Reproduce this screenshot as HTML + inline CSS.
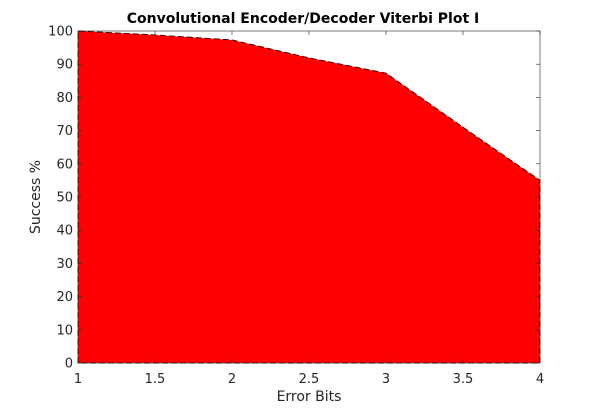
<!DOCTYPE html>
<html><head><meta charset="utf-8"><style>
html,body{margin:0;padding:0;background:#fff;}
svg{display:block;font-family:"DejaVu Sans","Liberation Sans",sans-serif;}
</style></head><body>
<svg id="chart" width="597" height="408" viewBox="0 0 597 408" xmlns="http://www.w3.org/2000/svg">
<rect width="597" height="408" fill="#fff"/>
<text x="303" y="23" text-anchor="middle" font-size="14" font-weight="bold" fill="#000">Convolutional Encoder/Decoder Viterbi Plot I</text>
<rect x="78" y="31" width="462" height="332" fill="#fff"/>
<g id="marks"></g>
<g id="axes"></g>
<text x="309" y="401" text-anchor="middle" font-size="14" fill="#262626">Error Bits</text>
<text transform="translate(40,197) rotate(-90)" text-anchor="middle" font-size="14" fill="#262626">Success %</text>
</svg>
<script>
const xValues = [1, 1.5, 2, 2.5, 3, 3.5, 4];
const successValues = [100, 98.8, 97.3, 91.9, 87.3, 71, 55];
const xTicks = [1, 1.5, 2, 2.5, 3, 3.5, 4];
const xTickLabels = ['1', '1.5', '2', '2.5', '3', '3.5', '4'];
const yTicks = [0, 10, 20, 30, 40, 50, 60, 70, 80, 90, 100];
const yTickLabels = ['0', '10', '20', '30', '40', '50', '60', '70', '80', '90', '100'];

const L = 78, R = 540, T = 31, B = 363;
function xs(v) { return L + (v - 1) / 3 * (R - L); }
function ys(v) { return B - v / 100 * (B - T); }
const NS = 'http://www.w3.org/2000/svg';
const marks = document.getElementById('marks');
const axes = document.getElementById('axes');

let d = 'M' + xs(xValues[0]) + ',' + ys(0);
xValues.forEach((x, i) => { d += ' L' + xs(x) + ',' + ys(successValues[i]); });
d += ' L' + xs(xValues[xValues.length - 1]) + ',' + ys(0) + ' Z';
const area = document.createElementNS(NS, 'path');


area.setAttribute('d', d);
area.setAttribute('fill', '#ff0000');
area.setAttribute('stroke', '#3a0000');
area.setAttribute('stroke-width', '1');
area.setAttribute('stroke-dasharray', '6,3');
marks.appendChild(area);

const box = document.createElementNS(NS, 'rect');


box.setAttribute('x', L); box.setAttribute('y', T);
box.setAttribute('width', R - L); box.setAttribute('height', B - T);
box.setAttribute('fill', 'none'); box.setAttribute('stroke', '#262626'); box.setAttribute('stroke-width', '0.6');
axes.appendChild(box);

xTicks.forEach((t, i) => {
  const x = xs(t);
  ['b', 't'].forEach(side => {
    const ln = document.createElementNS(NS, 'line');
    
    
    const y0 = side === 'b' ? B : T, y1 = side === 'b' ? B - 4 : T + 4;
    ln.setAttribute('x1', x); ln.setAttribute('x2', x); ln.setAttribute('y1', y0); ln.setAttribute('y2', y1);
    ln.setAttribute('stroke', '#262626'); ln.setAttribute('stroke-width', '0.6');
    axes.appendChild(ln);
  });
  const tx = document.createElementNS(NS, 'text');
  
  
  tx.setAttribute('x', x); tx.setAttribute('y', B + 20);
  tx.setAttribute('text-anchor', 'middle'); tx.setAttribute('font-size', '13'); tx.setAttribute('fill', '#262626');
  tx.textContent = xTickLabels[i];
  axes.appendChild(tx);
});
yTicks.forEach((t, i) => {
  const y = ys(t);
  ['l', 'r'].forEach(side => {
    const ln = document.createElementNS(NS, 'line');
    
    
    const x0 = side === 'l' ? L : R, x1 = side === 'l' ? L + 4 : R - 4;
    ln.setAttribute('x1', x0); ln.setAttribute('x2', x1); ln.setAttribute('y1', y); ln.setAttribute('y2', y);
    ln.setAttribute('stroke', '#262626'); ln.setAttribute('stroke-width', '0.6');
    axes.appendChild(ln);
  });
  const tx = document.createElementNS(NS, 'text');
  
  
  tx.setAttribute('x', L - 5); tx.setAttribute('y', y + 4.5);
  tx.setAttribute('text-anchor', 'end'); tx.setAttribute('font-size', '13'); tx.setAttribute('fill', '#262626');
  tx.textContent = yTickLabels[i];
  axes.appendChild(tx);
});
</script>
</body></html>
